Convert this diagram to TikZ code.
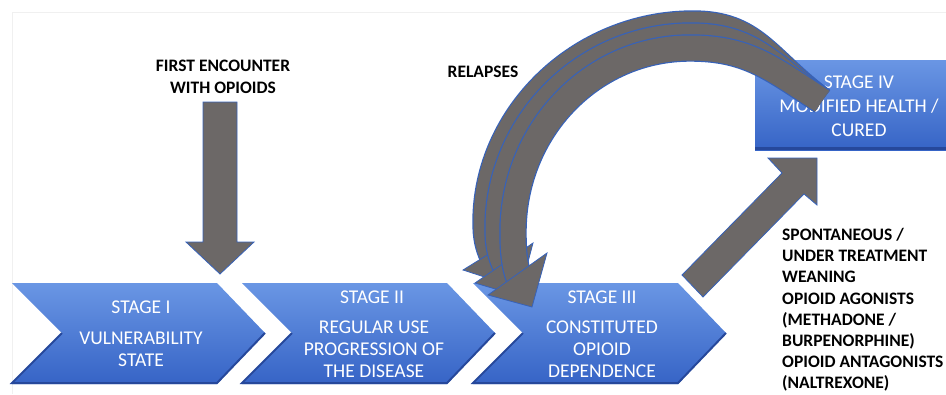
\documentclass[tikz,border=0pt]{standalone}
\usepackage{fontspec}
\setmainfont{Carlito}
\usepackage{tikz}
\usepackage{tkz-euclide}

\definecolor{stageTop}{RGB}{106,150,228}
\definecolor{stageBot}{RGB}{54,100,198}
\definecolor{stageEdge}{RGB}{38,72,155}
\definecolor{arrowGray}{RGB}{108,104,103}
\definecolor{arrowEdge}{RGB}{55,98,185}

\tikzset{
  stage/.style={top color=stageTop, bottom color=stageBot},
  stageText/.style={text=white, font=\fontsize{19.5}{22}\selectfont, align=center, inner sep=0pt},
  boldText/.style={font=\bfseries\fontsize{17.5}{21.5}\selectfont, inner sep=0pt},
  grayArrow/.style={fill=arrowGray, draw=arrowEdge, line width=0.8pt, line join=miter},
  bandArc/.style={draw=arrowGray, line width=25pt, preaction={draw=arrowEdge, line width=27.4pt}},
}

\begin{document}
\begin{tikzpicture}[x=1pt, y=-1pt]
  \clip (0,0) rectangle (946,394);
  \useasboundingbox (0,0) rectangle (946,394);
  \draw[gray!12, line width=0.6pt] (12,394) -- (12,12) -- (946,12);

  % 1. The three stage chevrons along the bottom
  \foreach \x in {12,242,473}{
    \shade[stage] (\x,283) -- (\x+205,283) -- (\x+253,333) -- (\x+205,384)
      -- (\x,384) -- (\x+50,333) -- cycle;
    \draw[stageEdge, line width=2pt] (\x+253,333) -- (\x+205,383) -- (\x,383) -- (\x+50,333);
  }
  \node[stageText] (S1) at (141,307) {STAGE I};
  \node[stageText] (D1) at (141,349) {VULNERABILITY\\STATE};
  \node[stageText] (S2) at (372,297) {STAGE II};
  \node[stageText] (D2) at (374,349) {REGULAR USE\\PROGRESSION OF\\THE DISEASE};
  \node[stageText] (S3) at (602,297) {STAGE III};
  \node[stageText] (D3) at (602,349) {CONSTITUTED\\OPIOID\\DEPENDENCE};

  % 2. Stage IV box (runs off the right edge)
  \shade[stage] (755,60) rectangle (952,150);
  \draw[stageEdge, line width=3pt] (755,148.5) -- (952,148.5);
  \node[stageText, font=\fontsize{19.5}{24}\selectfont] (S4) at (859,106)
    {STAGE IV\\MODIFIED HEALTH /\\CURED};

  % 3. First encounter: straight arrow down to stage I
  \node[boldText, align=center] (F) at (223,77) {FIRST ENCOUNTER\\WITH OPIOIDS};
  \tkzDefPoint(203,102){A}
  \tkzDefPoint(237,102){B}
  \tkzDefPoint(220,274){C}
  \draw[grayArrow] (A) -- (B) -- (237,242) -- (254,242) -- (C) -- (186,242) -- (203,242) -- cycle;

  % 4. Way out: diagonal arrow from stage III up to stage IV
  \tkzDefPoint(682,275){P}
  \tkzDefPoint(703,297){Q}
  \tkzDefPoint(817,158){R}
  \draw[grayArrow] (P) -- (782,173) -- (768,158) -- (R) -- (817,205) -- (804,194) -- (Q) -- cycle;
  \node[boldText, align=left, anchor=north west, font=\bfseries\fontsize{17.5}{21.2}\selectfont] (W) at (782,228)
    {SPONTANEOUS /\\UNDER TREATMENT\\WEANING\\OPIOID AGONISTS\\(METHADONE /\\BURPENORPHINE)\\OPIOID ANTAGONISTS\\(NALTREXONE)};

  % 5. Relapses: three curved arrows from stage IV back to stage III
  \node[boldText] (X) at (483,72) {RELAPSES};
  \tkzDefPoint(822,101){S}
  % outer one first, then the two inner ones on top
  \draw[bandArc] (S) .. controls (766,59) and (755,24) .. (693,24)
    .. controls (579,24) and (486,115) .. (486,222)
    .. controls (486,237) and (488,246) .. (493,257);
  \draw[grayArrow] (463,270) -- (506,284) -- (521,234) -- cycle;
  \draw[bandArc] (S) .. controls (769,64) and (752,36) .. (691,36)
    .. controls (584,36) and (498,123) .. (498,228)
    .. controls (498,245) and (500,254) .. (506,267);
  \draw[grayArrow] (475,283) -- (519,296) -- (533,243) -- cycle;
  \draw[bandArc] (S) .. controls (771,68) and (748,48) .. (690,48)
    .. controls (592,48) and (513,130) .. (513,232)
    .. controls (513,250) and (514,264) .. (519,278);
  \draw[grayArrow] (488,295) -- (532,307) -- (547,253) -- cycle;

\end{tikzpicture}
\end{document}
